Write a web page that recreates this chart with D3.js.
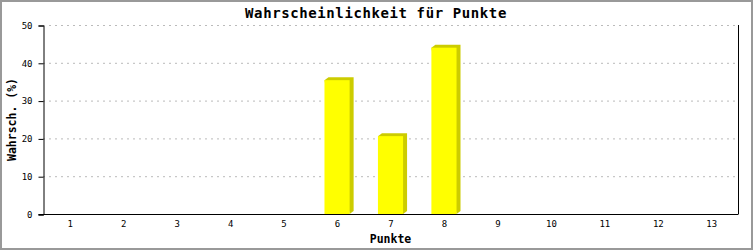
<!DOCTYPE html>
<html><head><meta charset="utf-8">
<script src="https://cdn.jsdelivr.net/npm/d3@7"></script>
<style>body{margin:0;background:#fff}svg{display:block}</style>
</head><body>
<script>
const categories = ["1","2","3","4","5","6","7","8","9","10","11","12","13"];
const values = [0,0,0,0,0,35.4,20.6,44.0,0,0,0,0,0];
const yTicks = [0,10,20,30,40,50];
const title = "Wahrscheinlichkeit für Punkte";
const xTitle = "Punkte";
const yTitle = "Wahrsch. (%)";

const W = 753, H = 250;
const m = {l:43, r:15, t:25, b:36};
const svg = d3.select("body").append("svg").attr("width",W).attr("height",H);
svg.append("rect").attr("x",1).attr("y",1).attr("width",W-2).attr("height",H-2)
  .attr("fill","#fff").attr("stroke","#999").attr("stroke-width",2);

const x = d3.scaleBand().domain(categories).range([m.l, W-m.r]).paddingInner(0.53).paddingOuter(0.265);
const y = d3.scaleLinear().domain([0,50]).range([H-m.b, m.t]);
const mono = "'DejaVu Sans Mono', 'Liberation Mono', monospace";

// gridlines
svg.append("g").selectAll("line").data(yTicks.filter(d=>d>0)).join("line")
  .attr("x1",m.l).attr("x2",W-m.r).attr("y1",d=>y(d)+0.5).attr("y2",d=>y(d)+0.5)
  .attr("stroke","#bbb").attr("stroke-width",1).attr("stroke-dasharray","2,4");

// bars with 3D shadow
const dx = 4, dy = 3;
const data = categories.map((c,i)=>({c, v: values[i]})).filter(d=>d.v>0);
const g = svg.append("g");
data.forEach(d=>{
  const x0 = x(d.c), x1 = x0 + x.bandwidth(), yt = y(d.v), yb = y(0);
  g.append("polygon")
    .attr("points",[[x0,yt],[x0+dx,yt-dy],[x1+dx,yt-dy],[x1+dx,yb-dy],[x1,yb]].map(p=>p.join(",")).join(" "))
    .attr("fill","#cccc00");
  g.append("rect").attr("x",x0).attr("y",yt).attr("width",x.bandwidth()).attr("height",yb-yt)
    .attr("fill","#ffff00");
});

// right border line
svg.append("line").attr("x1",W-m.r+0.5).attr("x2",W-m.r+0.5).attr("y1",m.t).attr("y2",H-m.b)
  .attr("stroke","#000");

// y axis
const ya = svg.append("g").attr("transform",`translate(${m.l+0.5},0.5)`)
  .call(d3.axisLeft(y).tickValues(yTicks).tickSize(5).tickPadding(6));
ya.select(".domain").attr("stroke","#000");
ya.selectAll("text").attr("font-family",mono).attr("font-size",9).attr("fill","#000");

// x axis
const xa = svg.append("g").attr("transform",`translate(0.5,${H-m.b+0.5})`)
  .call(d3.axisBottom(x).tickSize(0).tickPadding(6));
xa.select(".domain").attr("stroke","#000").attr("d",`M${m.l-5},0H${W-m.r}`);
xa.selectAll("text").attr("font-family",mono).attr("font-size",9).attr("fill","#000");

// titles
svg.append("text").attr("x",376).attr("y",18).attr("text-anchor","middle")
  .attr("font-family",mono).attr("font-weight","bold").attr("font-size",14)
  .attr("letter-spacing","0.6px").text(title);
svg.append("text").attr("x",(m.l+W-m.r)/2).attr("y",243).attr("text-anchor","middle")
  .attr("font-family",mono).attr("font-weight","bold").attr("font-size",11.5).text(xTitle);
svg.append("text").attr("transform",`translate(16,${(m.t+H-m.b)/2}) rotate(-90)`)
  .attr("text-anchor","middle")
  .attr("font-family",mono).attr("font-weight","bold").attr("font-size",11.5).text(yTitle);
</script>
</body></html>
